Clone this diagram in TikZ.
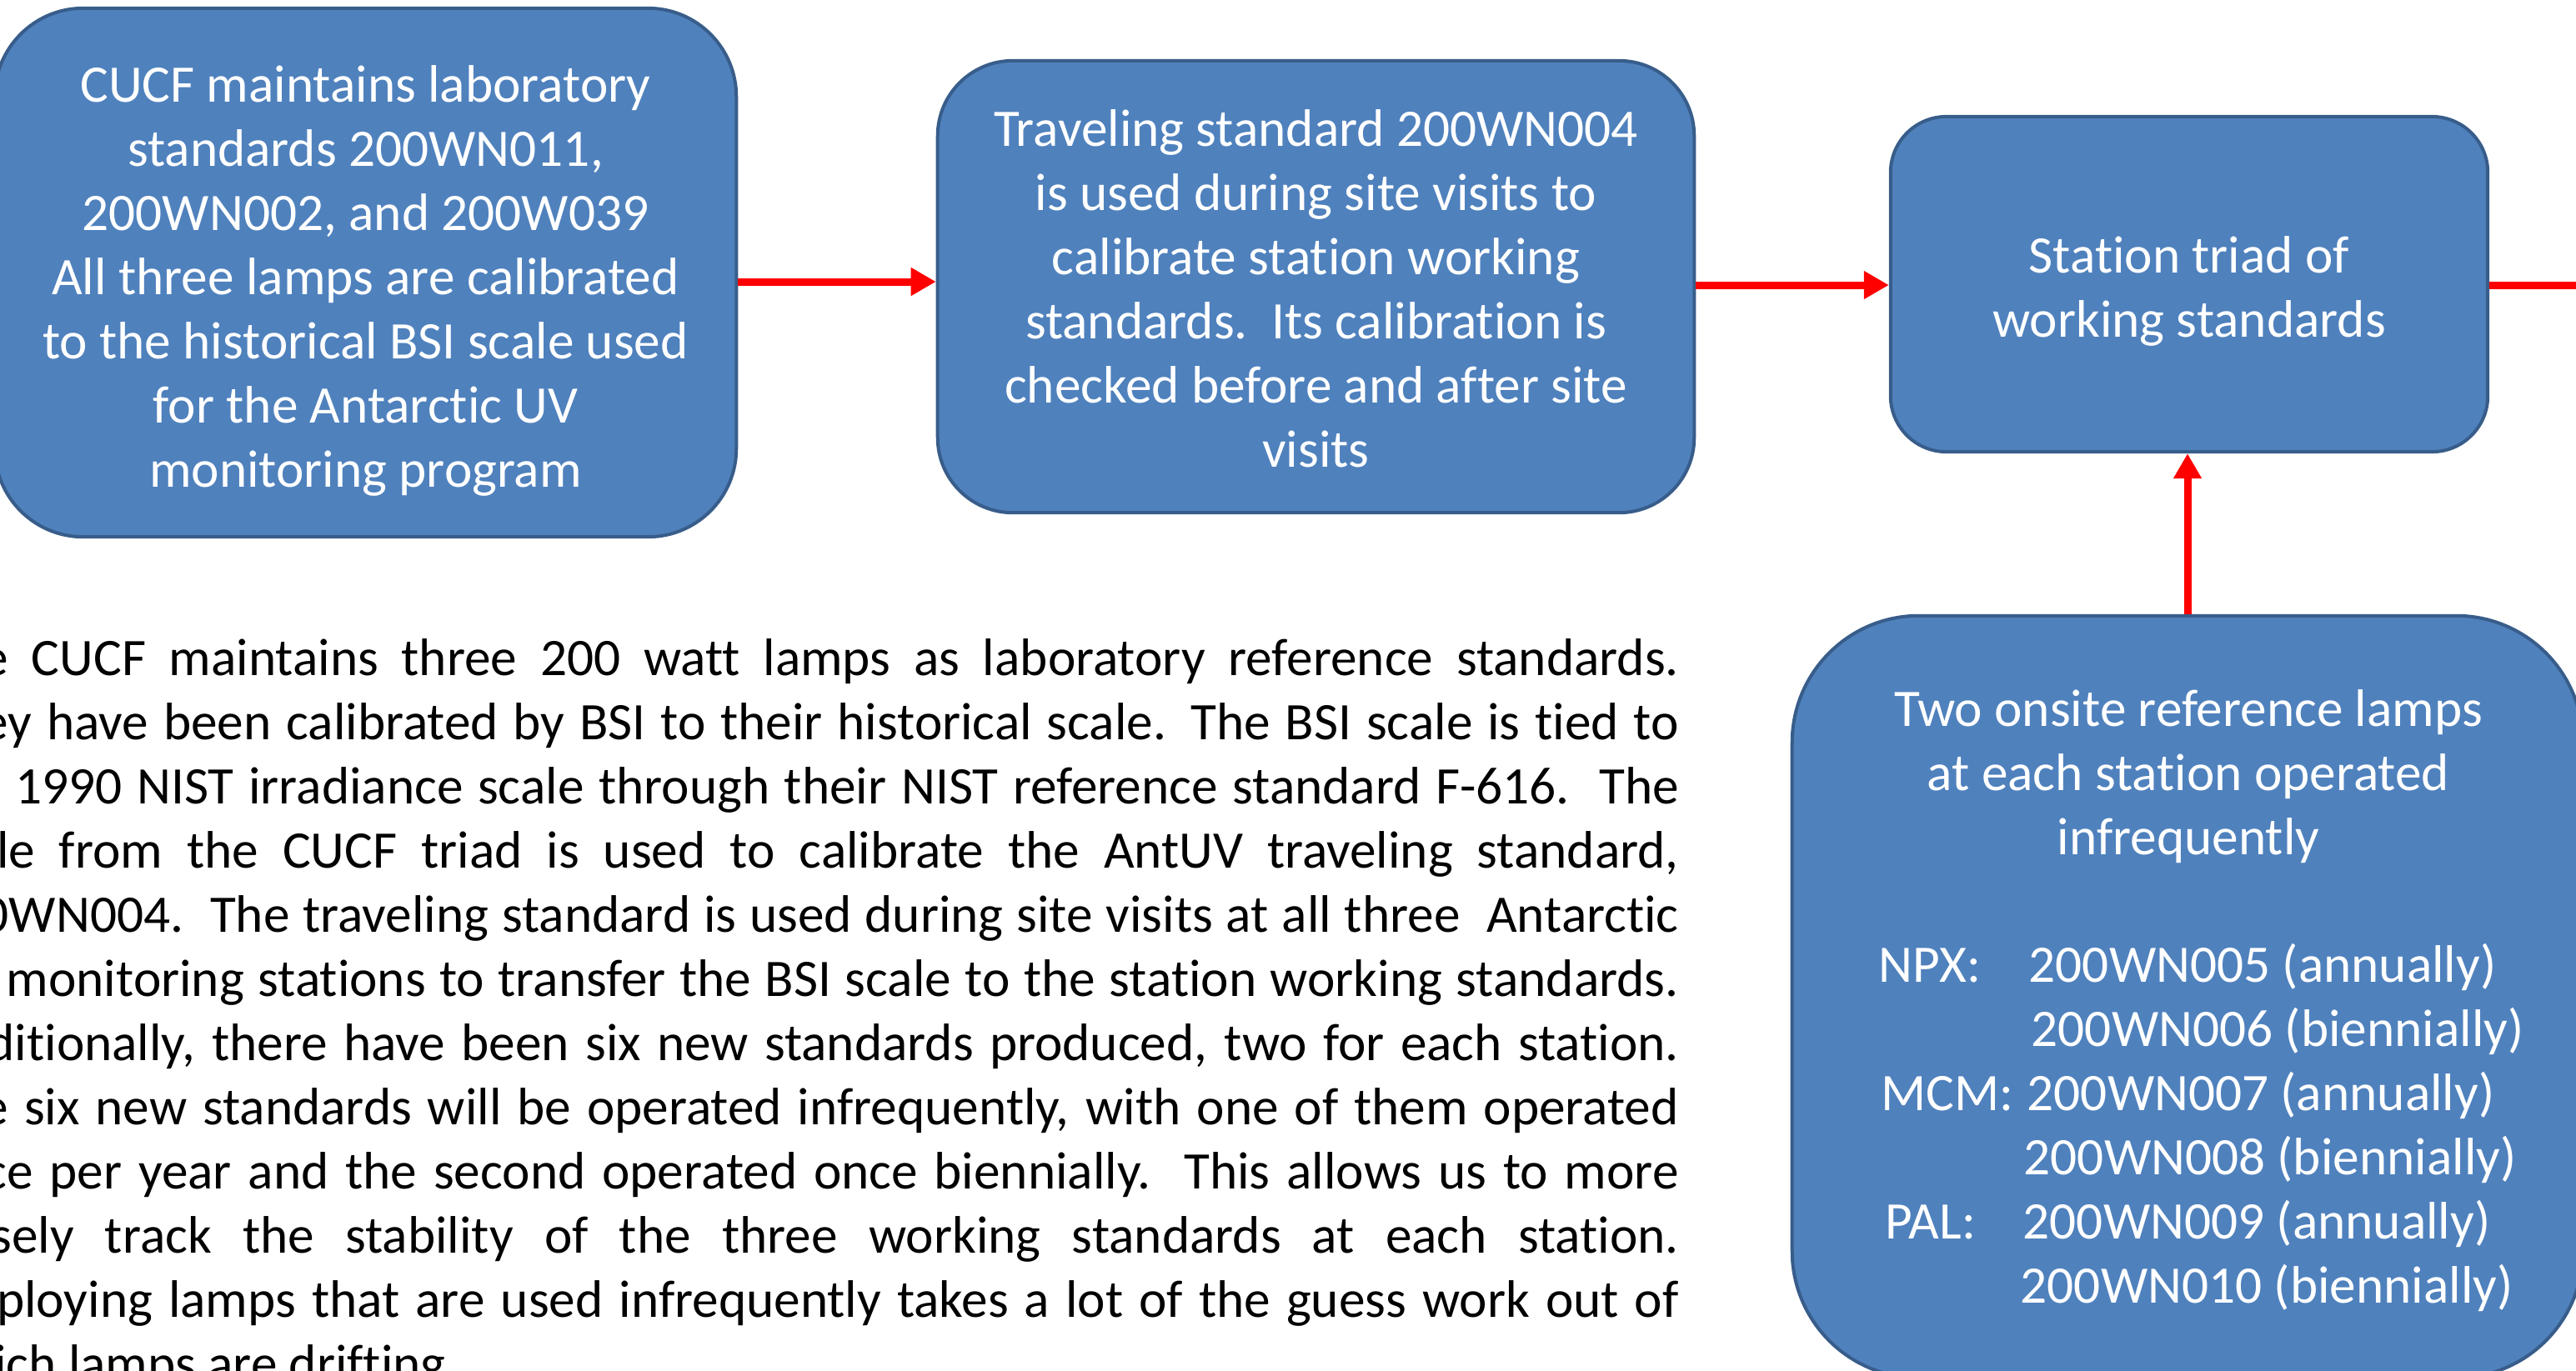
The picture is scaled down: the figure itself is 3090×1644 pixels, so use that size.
\documentclass[tikz,border=0pt]{standalone}
\usepackage{fontspec}
\setmainfont{Carlito}[Ligatures={NoCommon}]
\usetikzlibrary{arrows.meta}
\definecolor{boxfill}{HTML}{4F81BD}
\definecolor{boxline}{HTML}{385D8A}
\definecolor{arrred}{HTML}{FF0000}
\newcommand{\mainfs}{\fontsize{18}{21.9}\selectfont}
\tikzset{
  box/.style={draw=boxline, fill=boxfill, line width=0.04cm, inner sep=0pt},
  arr/.style={draw=arrred, line width=0.09cm, -{Triangle[length=0.3cm,width=0.32cm]}},
  paraline/.style={anchor=base west, inner sep=0pt, text=black, font=\mainfs},
  listtxt/.style={anchor=base west, inner sep=0pt, text=white, font=\mainfs},
  wtxt/.style={inner sep=0pt, text=white, align=center, font=\mainfs}
}
\begin{document}
\begin{tikzpicture}[x=0.01cm,y=-0.01cm]
\useasboundingbox[fill=white] (0,0) rectangle (3090,1644);

% boxes
\node[box, minimum width=8.89cm, minimum height=6.34cm, rounded corners=1.06cm] (cucf) at (438.5,327) {};
\node[box, minimum width=9.07cm, minimum height=5.42cm, rounded corners=0.9cm] (trav) at (1578.5,344) {};
\node[box, minimum width=7.16cm, minimum height=4.02cm, rounded corners=0.67cm] (stat) at (2626,341) {};
\node[box, minimum width=9.48cm, minimum height=9.14cm, rounded corners=1.52cm] (onsite) at (2624,1196) {};

% box texts
\node[wtxt] (cucftxt) at ([yshift=-0.1cm]cucf.center)
 {CUCF maintains laboratory\\standards 200WN011,\\200WN002, and 200W039\\All three lamps are calibrated\\to the historical BSI scale used\\for the Antarctic UV\\monitoring program};
\node[wtxt] (travtxt) at ([yshift=-0.02cm]trav.center)
 {Traveling standard 200WN004\\is used during site visits to\\calibrate station working\\standards.\ \ Its calibration is\\checked before and after site\\visits};
\node[wtxt] (stattxt) at ([yshift=-0.08cm]stat.center)
 {Station triad of\\working standards};
\node[wtxt] (onhead) at (2625,932) {Two onsite reference lamps\\at each station operated\\infrequently};
\node[listtxt] (npx) at (2253,1178) {NPX:};
\node[listtxt] (n5) at (2433,1178) {200WN005 (annually)};
\node[listtxt] (n6) at (2436,1255) {200WN006 (biennially)};
\node[listtxt] (mcm) at (2256,1332) {MCM:};
\node[listtxt] (n7) at (2431,1332) {200WN007 (annually)};
\node[listtxt] (n8) at (2427,1409) {200WN008 (biennially)};
\node[listtxt] (pal) at (2261,1486) {PAL:};
\node[listtxt] (n9) at (2426,1486) {200WN009 (annually)};
\node[listtxt] (n10) at (2423,1563) {200WN010 (biennially)};

% connectors
\coordinate (offright) at (3160,342);
\draw[arr] (cucf.east |- 0,338) -- (trav.west |- 0,338);
\draw[arr] (trav.east |- 0,342) -- (stat.west |- 0,342);
\draw[arr] (stat.east |- 0,342) -- (offright);
\draw[arr] (onsite.north) -- (onsite.north |- stat.south);

% paragraph
\node[paraline] (p1) at (-86,810) {\makebox[20.98cm][s]{The CUCF maintains three 200 watt lamps as laboratory reference standards.}};
\node[paraline] (p2) at (-86,887) {\makebox[20.98cm][s]{They have been calibrated by BSI to their historical scale. The BSI scale is tied to}};
\node[paraline] (p3) at (-86,964) {\makebox[20.98cm][s]{the 1990 NIST irradiance scale through their NIST reference standard F-616.\ \ The}};
\node[paraline] (p4) at (-86,1041) {\makebox[20.98cm][s]{scale from the CUCF triad is used to calibrate the AntUV traveling standard,}};
\node[paraline] (p5) at (-86,1118) {\makebox[20.98cm][s]{200WN004.\ \ The traveling standard is used during site visits at all three\ \ Antarctic}};
\node[paraline] (p6) at (-86,1195) {\makebox[20.98cm][s]{UV monitoring stations to transfer the BSI scale to the station working standards.}};
\node[paraline] (p7) at (-86,1272) {\makebox[20.98cm][s]{Additionally, there have been six new standards produced, two for each station.}};
\node[paraline] (p8) at (-86,1349) {\makebox[20.98cm][s]{The six new standards will be operated infrequently, with one of them operated}};
\node[paraline] (p9) at (-86,1426) {\makebox[20.98cm][s]{once per year and the second operated once biennially.\ \ This allows us to more}};
\node[paraline] (p10) at (-86,1503) {\makebox[20.98cm][s]{closely track the stability of the three working standards at each station.}};
\node[paraline] (p11) at (-86,1580) {\makebox[20.98cm][s]{Employing lamps that are used infrequently takes a lot of the guess work out of}};
\node[paraline] (p12) at (-86,1657) {which lamps are drifting.};
\end{tikzpicture}
\end{document}
